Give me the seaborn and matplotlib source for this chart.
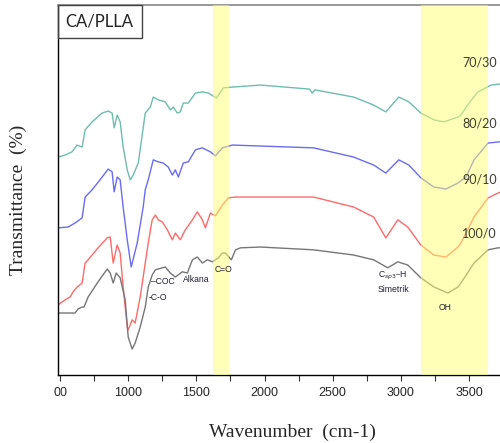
import numpy as np
import pandas as pd
import matplotlib
matplotlib.use('Agg')
import matplotlib.pyplot as plt
import seaborn as sns
from matplotlib.patches import Rectangle

# FTIR spectra CA/PLLA (arbitrary transmittance units)
wn_100 = [485, 610, 632, 662, 676, 706, 779, 846, 868, 890, 912, 941, 978, 1000, 1029,
          1051, 1088, 1125, 1147, 1176, 1199, 1250, 1272, 1309, 1346, 1397, 1434, 1471,
          1507, 1544, 1581, 1618, 1662, 1691, 1713, 1757, 1787, 1824, 1971, 2360, 2654,
          2801, 2904, 2978, 3051, 3147, 3243, 3346, 3419, 3441, 3537, 3640, 3713, 3735]
t_100 = [15.5, 15.5, 16.5, 17.0, 17.0, 19.5, 23.3, 26.5, 25.5, 23.0, 25.5, 24.3, 18.8, 9.5, 6.5,
         8.0, 12.0, 17.0, 22.0, 25.0, 26.3, 26.8, 27.0, 25.5, 24.5, 25.8, 25.5, 28.8,
         29.5, 28.0, 28.8, 28.3, 29.3, 30.5, 30.5, 28.8, 31.3, 31.8, 32.0, 31.3, 30.0,
         28.8, 26.8, 28.3, 27.5, 24.3, 22.0, 20.5, 22.0, 23.0, 28.0, 31.3, 31.8, 31.8]

wn_90 = [485, 537, 574, 596, 625, 662, 684, 706, 779, 846, 868, 890, 919, 941, 963, 993,
         1000, 1029, 1051, 1088, 1125, 1147, 1176, 1199, 1221, 1250, 1287, 1324, 1346,
         1382, 1419, 1471, 1507, 1544, 1566, 1603, 1640, 1691, 1735, 1787, 2360, 2654,
         2801, 2890, 2978, 3051, 3147, 3243, 3331, 3419, 3441, 3537, 3640, 3713, 3735]
t_90 = [17.5, 18.8, 19.5, 20.8, 22.0, 23.0, 28.0, 28.8, 31.8, 34.3, 34.5, 28.0, 32.5, 30.5, 22.0, 12.0,
        11.3, 13.8, 13.0, 19.5, 28.0, 33.0, 38.8, 40.0, 38.8, 38.3, 36.3, 33.8, 35.5,
        33.8, 36.3, 38.8, 40.8, 38.8, 36.8, 40.5, 39.8, 42.5, 44.3, 44.5, 44.5, 42.0,
        39.5, 34.3, 38.8, 37.0, 32.5, 30.0, 29.5, 32.0, 33.0, 39.5, 44.3, 45.5, 45.8]

wn_80 = [485, 559, 610, 662, 684, 735, 809, 853, 882, 897, 919, 941, 963, 993, 1022,
         1066, 1110, 1125, 1147, 1184, 1221, 1257, 1294, 1324, 1346, 1368, 1404, 1441,
         1493, 1544, 1603, 1640, 1691, 1765, 2360, 2654, 2801, 2890, 2985, 3059, 3147,
         3243, 3331, 3419, 3478, 3537, 3640, 3721, 3735]
t_80 = [36.8, 37.0, 38.0, 39.3, 44.5, 46.3, 49.5, 51.5, 50.8, 45.8, 49.5, 48.8, 42.0, 33.8, 27.0,
        33.0, 42.0, 46.3, 48.8, 53.8, 53.3, 53.0, 52.0, 50.0, 51.3, 49.5, 53.0, 53.3,
        56.3, 56.8, 55.8, 54.8, 56.8, 57.5, 56.8, 54.5, 52.5, 50.5, 53.8, 52.5, 49.3,
        47.0, 46.5, 48.0, 49.5, 53.8, 58.0, 58.3, 58.3]

wn_70 = [485, 537, 588, 625, 662, 684, 735, 809, 853, 882, 897, 919, 941, 963, 993, 1015,
         1037, 1074, 1125, 1162, 1184, 1221, 1272, 1309, 1331, 1360, 1382, 1404, 1441,
         1493, 1544, 1588, 1647, 1699, 1765, 1971, 2330, 2350, 2370, 2654, 2801, 2890,
         2985, 3059, 3147, 3243, 3316, 3419, 3441, 3500, 3566, 3662, 3735]
t_70 = [54.5, 55.0, 55.8, 57.5, 57.0, 61.3, 63.3, 65.5, 66.0, 65.5, 61.8, 65.0, 63.3, 57.0, 51.3, 48.8,
        50.0, 53.0, 65.5, 67.0, 69.5, 68.8, 68.3, 66.3, 67.0, 65.5, 65.8, 68.0, 68.0,
        70.5, 70.8, 70.5, 69.3, 71.8, 72.0, 72.5, 71.5, 70.5, 71.3, 69.5, 67.5, 65.8,
        69.5, 68.3, 65.5, 63.8, 63.3, 64.5, 65.0, 68.0, 70.8, 72.5, 72.8]

series_names = ['70/30', '80/20', '90/10', '100/0']
series_colors = ['#6fbcac', '#6b6bf2', '#ff6a6a', '#767676']
label_pos = [(3450, 78.2), (3450, 63.0), (3450, 49.0), (3450, 35.3)]

bands = [(1625, 1743), (3147, 3640)]
xticks = [500, 1000, 1500, 2000, 2500, 3000, 3500]
xticklabels = ['00', '1000', '1500', '2000', '2500', '3000', '3500']

notes = [('C=O', 1632, 26.5), ('\u2013COC', 1169, 23.5), ('Alkana', 1404, 24.0),
         ('-C-O', 1147, 19.5), ('C$_{sp3}$\u2013H', 2831, 24.7), ('Simetrik', 2831, 21.5),
         ('OH', 3279, 16.8)]

sns.set_style('white')
plt.rcParams['font.family'] = ['Liberation Sans', 'DejaVu Sans']

fig = plt.figure(figsize=(5, 4.43), dpi=100)
ax = fig.add_axes([0.116, 0.1535, 0.886, 0.835])

spectra = [(wn_70, t_70), (wn_80, t_80), (wn_90, t_90), (wn_100, t_100)]
for (wn, t), name, col in zip(spectra, series_names, series_colors):
    df = pd.DataFrame({'wn': wn, 't': t})
    sns.lineplot(data=df, x='wn', y='t', color=col, lw=1.0, ax=ax, sort=False, zorder=2)

for lo, hi in bands:
    ax.axvspan(lo, hi, color='#ffff70', alpha=0.5, lw=0, zorder=3)

for name, (x, y) in zip(series_names, label_pos):
    ax.text(x, y, name, fontsize=9, color='#3c3c2c', va='center', ha='left',
            family=['Lato', 'DejaVu Sans'], zorder=4)

for txt, x, y in notes:
    ax.text(x, y, txt, fontsize=6.2, color='#202030', va='center', ha='left', zorder=4)

ax.set_xlim(485, 3735)
ax.set_ylim(0, 92.5)
ax.set_xticks(xticks)
ax.set_xticks(np.arange(750, 3750, 500), minor=True)
ax.set_xticklabels(xticklabels, fontsize=9)
ax.set_yticks([])
ax.tick_params(axis='x', which='both', direction='out', length=4, width=0.8, pad=5,
               bottom=True, color='#333')
ax.set_xlabel('')
ax.set_ylabel('')

for side in ['left', 'bottom']:
    ax.spines[side].set_color('black')
    ax.spines[side].set_linewidth(1.0)
ax.spines['top'].set_color('#888888')
ax.spines['top'].set_linewidth(1.2)
ax.spines['right'].set_visible(False)

# legend box top-left
ax.add_patch(Rectangle((0, 0.911), 0.19, 0.089, transform=ax.transAxes, fill=False,
                       edgecolor='#444444', lw=1.0, zorder=4, clip_on=False))
ax.text(0.092, 0.956, 'CA/PLLA', transform=ax.transAxes, fontsize=12, ha='center',
        va='center', color='#222', family=['Lato', 'DejaVu Sans'], zorder=5)

fig.text(0.036, 0.548, 'Transmittance  (%)', rotation=90, ha='center', va='center',
         fontsize=14, family=['Liberation Serif', 'DejaVu Serif'])
fig.text(0.585, 0.025, 'Wavenumber  (cm-1)', ha='center', va='center',
         fontsize=14, family=['Liberation Serif', 'DejaVu Serif'])

fig.savefig('out.png', dpi=100)
